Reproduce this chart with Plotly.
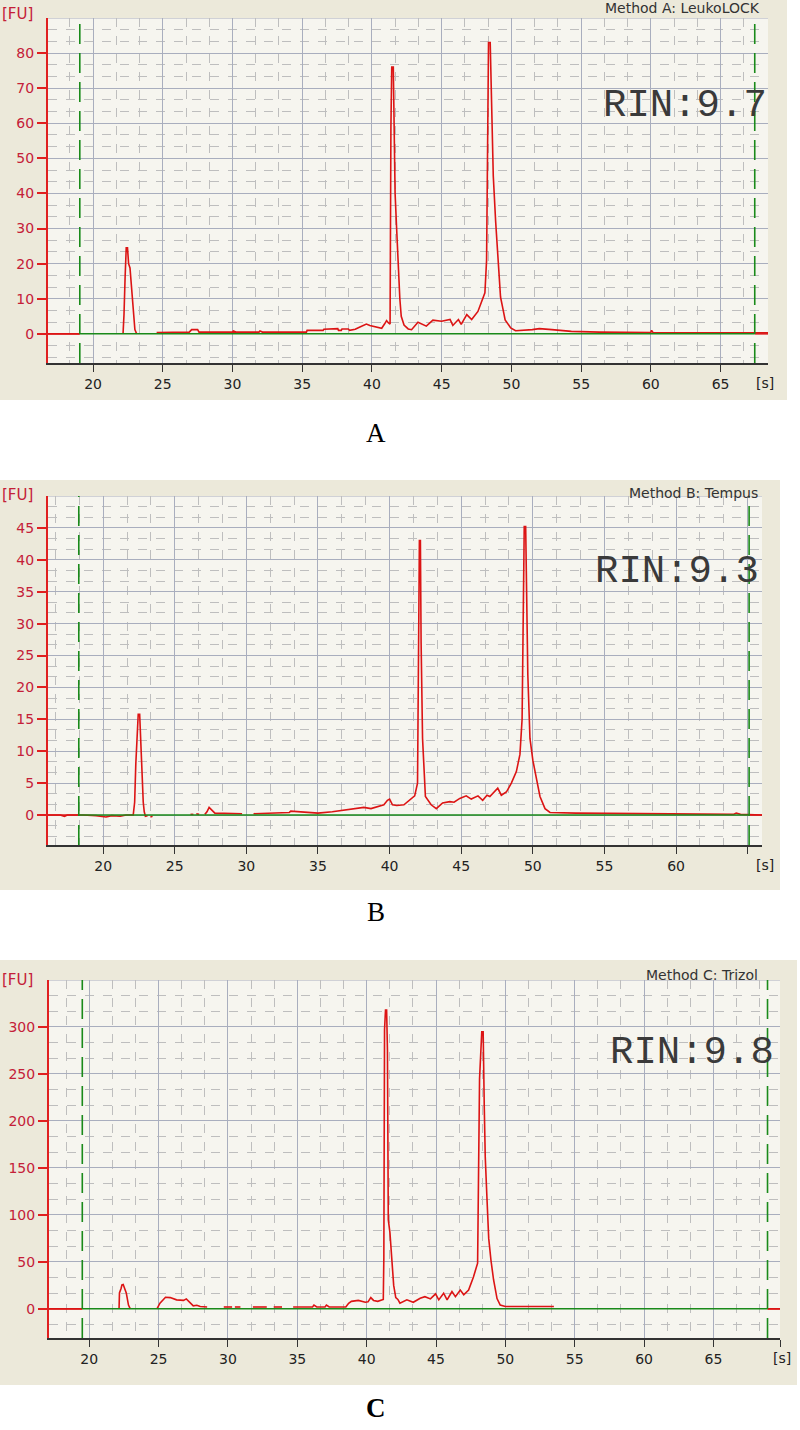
import plotly.graph_objects as go

W, H = 800, 1430

# ---------------- Panel A: LeukoLOCK ----------------
a_time = [16.77, 19.05, None,
          22.15, 22.22, 22.30, 22.38, 22.47, 22.55, 22.65, 22.77, 22.89, 23.00, 23.13, None,
          24.56, 25.5, 26.9, 27.07, 27.5, 27.6, 30.0, 30.06, 30.25, 31.9, 31.97, 32.15, 35.3, 35.35,
          36.5, 36.55, 37.2, 37.25, 37.55, 37.6, 37.8, 37.85, 38.3, 38.4, 38.8, 39.1, 39.35, 39.6,
          39.85, 40.3, 40.7, 40.9, 41.05, 41.17, 41.3, 41.36, 41.42, 41.53, 41.58, 41.66, 41.77,
          41.89, 42.0, 42.1, 42.3, 42.6, 42.84, 43.3, 43.9, 44.37, 44.99, 45.6, 45.8, 46.2, 46.4,
          46.8, 47.15, 47.6, 47.95, 48.10, 48.22, 48.30, 48.36, 48.48, 48.56, 48.62, 48.70, 48.87,
          49.0, 49.1, 49.22, 49.4, 49.55, 49.95, 50.3, 51.5, 52.0, 52.9, 54.3, 56.3, 60.0, 60.05,
          60.15, 68.4]
a_fu = [0, 0, None,
        0, 5.5, 16.3, 24.5, 24.5, 20, 18.8, 11.7, 5, 1.2, 0, None,
        0.4, 0.5, 0.5, 1.2, 1.2, 0.5, 0.5, 0.8, 0.5, 0.5, 0.8, 0.5, 0.5, 1.0,
        1.0, 1.3, 1.3, 1.5, 1.5, 1.0, 1.0, 1.4, 1.4, 1.0, 1.3, 1.9, 2.3, 2.8,
        2.4, 1.9, 1.6, 2.8, 3.8, 3.2, 2.8, 59, 76, 76, 59, 40, 30,
        18, 10, 5, 2.5, 1.4, 1.2, 3.3, 2.2, 3.9, 3.6, 4.1, 2.4, 4.1, 2.7,
        5.5, 4.1, 6.4, 10, 11.7, 21, 60, 83, 83, 69, 58, 45, 32,
        23, 17, 10.5, 7, 4, 1.7, 0.9, 1.2, 1.5, 1.2, 0.7, 0.5, 0.4, 1.0,
        0.4, 0.3]
a_markers = [19.05, 67.45]
a_yticks = [0, 10, 20, 30, 40, 50, 60, 70, 80]
a_xticks = [20, 25, 30, 35, 40, 45, 50, 55, 60, 65]
a_xlabels = ["20", "25", "30", "35", "40", "45", "50", "55", "60", "65"]

# ---------------- Panel B: Tempus ----------------
b_time = [16.15, 17.0, 17.3, 17.5, 18.6, 19.5, 20.2, 20.6, 21.2, 21.6, 22.1, 22.2, 22.28, 22.38,
          22.45, 22.55, 22.62, 22.7, 22.8, 22.87, 22.95, 23.1, None, 23.3, 23.45, None,
          26.1, 26.3, None, 26.5, 26.7, None,
          27.1, 27.25, 27.4, 27.55, 27.8, 29.7, None,
          30.5, 31.5, 33.0, 33.1, 34.0, 35.0, 36.0, 36.6, 37.2, 37.7, 38.2, 38.7, 39.2, 39.6,
          39.85, 40.0, 40.2, 40.5, 41.0, 41.4, 41.75, 41.95, 42.0, 42.08, 42.15, 42.2, 42.3,
          42.4, 42.5, 42.9, 43.26, 43.7, 44.2, 44.5, 44.9, 45.35, 45.7, 46.17, 46.5, 46.8,
          47.0, 47.55, 47.8, 48.15, 48.5, 48.85, 49.1, 49.25, 49.33, 49.4, 49.5, 49.55, 49.65,
          49.8, 50.0, 50.27, 50.5, 50.85, 51.2, 53.0, 57.5, 60.0, 64.0, 64.2, 64.5, 66.0]
b_fu = [0, 0, -0.2, 0, 0, -0.1, -0.3, -0.1, -0.2, 0, 0, 2, 8, 14,
        15.8, 15.8, 12, 5.5, 2, 0.5, -0.2, -0.1, None, -0.3, -0.2, None,
        0.1, 0.1, None, 0.2, 0.1, None,
        0.1, 0.5, 1.2, 0.9, 0.3, 0.2, None,
        0.2, 0.3, 0.4, 0.6, 0.5, 0.3, 0.5, 0.7, 0.8, 1.0, 1.2, 1.0, 1.3, 1.6,
        2.3, 2.5, 1.6, 1.5, 1.6, 2.3, 3.0, 5, 27, 43, 43, 27, 12,
        6, 2.9, 1.6, 1.0, 1.9, 2.1, 2.0, 2.6, 3.0, 2.5, 3.0, 2.3, 3.1,
        2.9, 4.2, 3.1, 3.6, 5, 6.8, 9.5, 15, 30, 45.2, 45.2, 35, 22,
        12, 8.6, 5.5, 2.9, 1.0, 0.4, 0.3, 0.2, 0.1, 0.1, 0.3, 0.1, 0.0]
b_markers = [18.3, 65.1]
b_yticks = [0, 5, 10, 15, 20, 25, 30, 35, 40, 45]
b_xticks = [20, 25, 30, 35, 40, 45, 50, 55, 60, 65]
b_xlabels = ["20", "25", "30", "35", "40", "45", "50", "55", "60", ""]

# ---------------- Panel C: Trizol ----------------
c_time = [17.1, 19.5, None,
          22.15, 22.18, 22.30, 22.36, 22.45, 22.52, 22.67, 22.83, 22.96, None,
          24.88, 25.1, 25.5, 25.84, 26.3, 26.8, 27.0, 27.3, 27.5, 27.76, 28.0, 28.5, None,
          29.7, 30.3, None, 30.5, 30.9, None, 31.8, 32.8, None, 33.3, 33.9, None,
          34.7, 36.1, 36.2, 36.4, 37.0, 37.1, 37.3, 38.5, 38.7, 38.9, 39.4, 39.9, 40.1, 40.3,
          40.5, 40.8, 41.2, 41.24, 41.29, 41.36, 41.44, 41.5, 41.56, 41.68, 41.8, 41.95, 42.1,
          42.25, 42.4, 42.9, 43.36, 43.86, 44.2, 44.6, 44.97, 45.2, 45.55, 45.8, 46.15, 46.4,
          46.75, 47.0, 47.35, 47.7, 48.0, 48.07, 48.14, 48.3, 48.4, 48.48, 48.55, 48.67, 48.8,
          48.96, 49.15, 49.4, 49.63, 50.0, 53.5, None, 68.9, 69.8]
c_fu = [0, 0, None,
        0, 17, 22, 25.5, 26, 23.7, 17, 4, 0, None,
        0, 6, 12.4, 12, 9.6, 9, 10.6, 6, 3.2, 3.9, 2.5, 2, None,
        2, 2, None, 2, 2, None, 2, 2, None, 2, 2, None,
        2, 2, 4, 2, 2, 4, 2, 2, 6, 8, 9, 7, 7.5, 12,
        9, 8, 10, 55, 297, 318, 318, 275, 95, 81, 56, 25, 12,
        10, 6, 9.6, 7, 11.3, 13, 10.6, 16, 9.6, 16.7, 9.6, 18.4, 13,
        20, 15, 20, 34, 48.6, 130, 245, 295, 295, 215, 162, 119, 75,
        52, 31, 11, 4, 2.5, 2.5, None, 0, 0]
c_markers = [19.5, 68.9]
c_yticks = [0, 50, 100, 150, 200, 250, 300]
c_xticks = [20, 25, 30, 35, 40, 45, 50, 55, 60, 65, 69.8]
c_xlabels = ["20", "25", "30", "35", "40", "45", "50", "55", "60", "65", ""]

methods = ["Method A: LeukoLOCK", "Method B: Tempus", "Method C: Trizol"]
rins = ["RIN:9.7", "RIN:9.3", "RIN:9.8"]
letters = ["A", "B", "C"]

# ---------------- layout geometry (pixels) ----------------
panels = [
    dict(t=a_time, fu=a_fu, mk=a_markers, yt=a_yticks, xt=a_xticks, xl=a_xlabels,
         xr=[16.77, 68.4], yr=[-8.3, 90],
         ymin=10 / 3, plot=(48, 768, 18, 363), bg=(0, 787, 0, 400),
         meth_xy=(762, 8), rin_xy=(769, 106), fu_y=14, s_xy=(765, 383), let_y=433),
    dict(t=b_time, fu=b_fu, mk=b_markers, yt=b_yticks, xt=b_xticks, xl=b_xlabels,
         xr=[16.15, 66.0], yr=[-4.7, 50],
         ymin=5 / 3, plot=(48, 762, 496, 845), bg=(0, 780, 480, 890),
         meth_xy=(760, 493), rin_xy=(761, 572), fu_y=495, s_xy=(765, 865), let_y=912),
    dict(t=c_time, fu=c_fu, mk=c_markers, yt=c_yticks, xt=c_xticks, xl=c_xlabels,
         xr=[17.1, 69.8], yr=[-31, 350],
         ymin=50 / 3, plot=(49, 780, 980, 1338), bg=(0, 797, 960, 1385),
         meth_xy=(760, 975), rin_xy=(776, 1053), fu_y=980, s_xy=(782, 1358), let_y=1408),
]


def PX(x):
    return x / W


def PY(y):
    return 1 - y / H


RED = "#DC1414"
GREEN = "#1A8A1A"
BEIGE = "#ECE9DA"
CREAM = "#F6F5EF"
MAJ = "#A9AEBE"
MINC = "#BEBEBE"
YLAB = "#C42038"

fig = go.Figure()
shapes = []
annotations = []
layout = dict(width=W, height=H, margin=dict(l=0, r=0, t=0, b=0),
              paper_bgcolor="white", plot_bgcolor="rgba(0,0,0,0)", showlegend=False)

for i, p in enumerate(panels):
    n = "" if i == 0 else str(i + 1)
    xa, ya = "x" + n, "y" + n
    x0, x1, y0, y1 = p["plot"]
    bx0, bx1, by0, by1 = p["bg"]
    shapes.append(dict(type="rect", xref="paper", yref="paper", x0=PX(bx0), x1=PX(bx1),
                       y0=PY(by1), y1=PY(by0), fillcolor=BEIGE, line=dict(width=0), layer="below"))
    shapes.append(dict(type="rect", xref="paper", yref="paper", x0=PX(x0), x1=PX(x1),
                       y0=PY(y1), y1=PY(y0), fillcolor=CREAM, line=dict(width=0), layer="below"))
    # top gridline
    shapes.append(dict(type="line", xref=xa + " domain", yref=ya, x0=0, x1=1,
                       y0=p["yr"][1], y1=p["yr"][1], line=dict(color=MAJ, width=1), layer="below"))
    # green dashed markers
    for m in p["mk"]:
        shapes.append(dict(type="line", xref=xa, yref=ya + " domain", x0=m, x1=m, y0=0, y1=1,
                           line=dict(color=GREEN, width=1.6, dash="20px,9px"), layer="above"))

    fig.add_trace(go.Scatter(x=p["t"], y=p["fu"], mode="lines", xaxis=xa, yaxis=ya,
                             line=dict(color=RED, width=1.6), connectgaps=False,
                             hoverinfo="skip"))
    fig.add_trace(go.Scatter(x=p["mk"], y=[0, 0], mode="lines", xaxis=xa, yaxis=ya,
                             line=dict(color=GREEN, width=1.5), hoverinfo="skip"))
    fig.add_trace(go.Scatter(x=[p["xr"][0], p["mk"][0]], y=[0, 0], mode="lines", xaxis=xa, yaxis=ya,
                             line=dict(color=RED, width=1.5), hoverinfo="skip"))
    fig.add_trace(go.Scatter(x=[p["mk"][1], p["xr"][1]], y=[0, 0], mode="lines", xaxis=xa, yaxis=ya,
                             line=dict(color=RED, width=1.5), hoverinfo="skip"))

    layout["xaxis" + n] = dict(
        domain=[PX(x0), PX(x1)], range=p["xr"], anchor=ya,
        tickmode="array", tickvals=p["xt"], ticktext=p["xl"],
        ticks="outside", ticklen=7, tickwidth=1.2,
        tickcolor="#333333", showline=True, linecolor="#333333", linewidth=1.5,
        showgrid=True, gridcolor=MAJ, gridwidth=1, zeroline=False,
        tickfont=dict(family="DejaVu Sans", size=14, color="#222222"),
        minor=dict(tick0=0, dtick=5 / 3, showgrid=True, gridcolor=MINC, griddash="dash",
                   gridwidth=1, ticks=""),
        fixedrange=True)
    layout["yaxis" + n] = dict(
        domain=[PY(y1), PY(y0)], range=p["yr"], anchor=xa,
        tickmode="array", tickvals=p["yt"], ticks="outside", ticklen=9, tickwidth=1.5,
        tickcolor="#E02020", showline=True, linecolor="#E02020", linewidth=2,
        showgrid=True, gridcolor=MAJ, gridwidth=1, zeroline=False,
        tickfont=dict(family="DejaVu Sans", size=14, color=YLAB),
        minor=dict(tick0=0, dtick=p["ymin"], showgrid=True, gridcolor=MINC, griddash="dash",
                   gridwidth=1, ticks=""),
        fixedrange=True)

    annotations.append(dict(text="[FU]", xref="paper", yref="paper", x=PX(0), y=PY(p["fu_y"]),
                            xanchor="left", yanchor="middle", showarrow=False,
                            font=dict(family="DejaVu Sans", size=15, color=YLAB)))
    annotations.append(dict(text="[s]", xref="paper", yref="paper", x=PX(p["s_xy"][0]),
                            y=PY(p["s_xy"][1]), xanchor="center", yanchor="middle", showarrow=False,
                            font=dict(family="DejaVu Sans", size=14, color="#222222")))
    annotations.append(dict(text=methods[i], xref="paper", yref="paper", x=PX(p["meth_xy"][0]),
                            y=PY(p["meth_xy"][1]), xanchor="right", yanchor="middle", showarrow=False,
                            font=dict(family="DejaVu Sans", size=14, color="#333333")))
    annotations.append(dict(text=rins[i], xref="paper", yref="paper", x=PX(p["rin_xy"][0]),
                            y=PY(p["rin_xy"][1]), xanchor="right", yanchor="middle", showarrow=False,
                            font=dict(family="Liberation Mono", size=39, color="#3a3a3a")))
    annotations.append(dict(text=("<b>%s</b>" % letters[i]) if i == 2 else letters[i],
                            xref="paper", yref="paper", x=PX(376), y=PY(p["let_y"]),
                            xanchor="center", yanchor="middle", showarrow=False,
                            font=dict(family="Liberation Serif", size=27, color="#000000")))

layout["shapes"] = shapes
layout["annotations"] = annotations
fig.update_layout(**layout)
fig.write_html("out.html", config={"displayModeBar": False},
               post_script="document.body.style.margin='0';")
